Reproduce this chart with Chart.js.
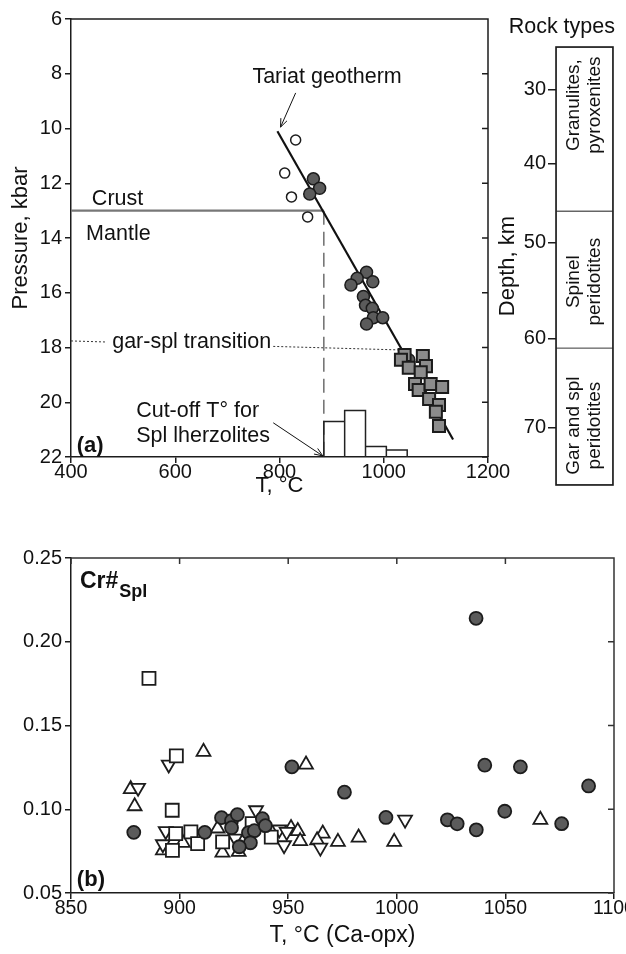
<!DOCTYPE html>
<html lang="en">
<head>
<meta charset="UTF-8">
<title>Tariat xenoliths: P–T and Cr# of spinel</title>
<script src="https://cdn.jsdelivr.net/npm/chart.js"></script>
<style>
  html, body { margin: 0; padding: 0; background: #fff; overflow: hidden; }
  body { width: 626px; height: 954px; position: relative; }
  canvas { position: absolute; }
  #chartPT { left: 0; top: 0; }
  #chartRocks { left: 488px; top: 0; }
  #chartCr { left: 0; top: 500px; }
</style>
</head>
<body>
<canvas id="chartPT" width="520" height="500"></canvas>
<canvas id="chartRocks" width="138" height="500"></canvas>
<canvas id="chartCr" width="660" height="454"></canvas>
<script>
const FONT = "'Liberation Sans', Arial, Helvetica, sans-serif";
const INK = '#1c1c1c';

// ---- (a) P-T estimates: T in °C, P in kbar ----
const openCircleT = [831, 810, 823, 854];
const openCircleP = [10.42, 11.63, 12.50, 13.23];
const darkCircleT = [865, 877, 858, 967, 949, 937, 979, 961, 965, 978, 980, 998, 967, 1048];
const darkCircleP = [11.84, 12.18, 12.39, 15.25, 15.47, 15.72, 15.60, 16.14, 16.46, 16.57, 16.91, 16.91, 17.14, 18.45];
const squareT = [1040, 1033, 1048, 1075, 1081, 1071, 1060, 1067, 1090, 1112, 1087, 1106, 1100, 1106];
const squareP = [18.27, 18.45, 18.74, 18.31, 18.68, 18.90, 19.33, 19.55, 19.33, 19.44, 19.88, 20.10, 20.35, 20.87];

// Tariat geotherm end points
const geothermT = [796, 1133];
const geothermP = [10.1, 21.36];

// crust/mantle boundary and spl-lherzolite cut-off temperature
const mohoP = 13;
const cutoffT = 885;

// gar-spl transition, broken around its label
const garSplLeftT = [400, 469];
const garSplLeftP = [17.76, 17.80];
const garSplRightT = [788, 1033];
const garSplRightP = [17.96, 18.09];

// histogram of spl lherzolite temperatures (bin edges °C, bar tops on the P axis)
const histEdges = [885, 925, 965, 1005, 1045];
const histTops = [20.7, 20.3, 21.62, 21.74];

// ---- rock column ----
const rockNames = [['Granulites,', 'pyroxenites'], ['Spinel', 'peridotites'], ['Gar and spl', 'peridotites']];
const rockFromP = [7, 13, 18];
const rockToP = [13, 18, 23];
const depthKm = [30, 40, 50, 60, 70];
const depthP = [8.56, 11.26, 14.15, 17.65, 20.9];

// ---- (b) Cr# of spinel vs T (Ca-opx) ----
const crCircleT = [878.9, 911.6, 919.3, 923.9, 926.6, 923.9, 931.7, 934.4, 932.6, 927.5, 938.1, 939.5,
  951.7, 975.9, 995.0, 1023.3, 1027.8, 1036.6, 1036.5, 1040.5, 1056.9, 1049.7, 1075.9, 1088.3];
const crCircleV = [0.0862, 0.0862, 0.0950, 0.0932, 0.0968, 0.0890, 0.0860, 0.0872, 0.0800, 0.0776, 0.0944, 0.0902,
  0.1253, 0.1102, 0.0951, 0.0937, 0.0913, 0.0877, 0.2140, 0.1263, 0.1253, 0.0988, 0.0914, 0.1139];
const crSquareT = [885.9, 898.5, 896.6, 898.2, 905.2, 896.7, 908.3, 919.8, 933.4, 942.2];
const crSquareV = [0.1781, 0.1319, 0.0994, 0.0855, 0.0865, 0.0755, 0.0795, 0.0805, 0.0914, 0.0834];
const crUpT = [911.0, 877.5, 879.3, 892.3, 901.5, 917.5, 919.7, 927.2, 951.3, 954.4, 955.5, 958.2,
  965.9, 963.3, 972.9, 982.4, 998.8, 1066.1];
const crUpV = [0.1343, 0.1120, 0.1018, 0.0755, 0.0799, 0.0885, 0.0741, 0.0745, 0.0888, 0.0870, 0.0810, 0.1267,
  0.0855, 0.0815, 0.0805, 0.0831, 0.0805, 0.0937];
const crDownT = [895.0, 880.9, 893.6, 892.3, 935.2, 925.7, 945.9, 949.3, 948.1, 964.8, 1003.8];
const crDownV = [0.1267, 0.1128, 0.0870, 0.0791, 0.0994, 0.0825, 0.0879, 0.0865, 0.0785, 0.0771, 0.0938];

const pts = (xs, ys) => xs.map((x, i) => ({ x, y: ys[i] }));

function lineSet(data, color, width, dash, order) {
  return { data, showLine: true, borderColor: color, borderWidth: width, borderDash: dash || [],
    pointRadius: 0, fill: false, tension: 0, order };
}

function arrow(ctx, x1, y1, x2, y2, head) {
  const a = Math.atan2(y2 - y1, x2 - x1);
  ctx.beginPath();
  ctx.moveTo(x1, y1); ctx.lineTo(x2, y2);
  ctx.moveTo(x2 - head * Math.cos(a - 0.38), y2 - head * Math.sin(a - 0.38));
  ctx.lineTo(x2, y2);
  ctx.lineTo(x2 - head * Math.cos(a + 0.38), y2 - head * Math.sin(a + 0.38));
  ctx.stroke();
}

// top and right sides of the box, with inward ticks
const boxFrame = {
  id: 'boxFrame',
  afterDatasetsDraw(chart, args, opts) {
    const { ctx, chartArea: a, scales: { x, y } } = chart;
    ctx.save();
    ctx.strokeStyle = opts.color;
    ctx.lineWidth = opts.width;
    ctx.beginPath();
    ctx.moveTo(a.left, a.top); ctx.lineTo(a.right, a.top); ctx.lineTo(a.right, a.bottom);
    if (opts.rightTicks) y.ticks.forEach(t => {
      const py = y.getPixelForValue(t.value);
      ctx.moveTo(a.right, py); ctx.lineTo(a.right - opts.len, py);
    });
    if (opts.topTicks) x.ticks.forEach(t => {
      const px = x.getPixelForValue(t.value);
      ctx.moveTo(px, a.top); ctx.lineTo(px, a.top + opts.len);
    });
    ctx.stroke();
    ctx.restore();
  }
};

const tickFont = { family: FONT, size: 20 };
const plain = v => String(v);

function axisCommon(extra) {
  return Object.assign({
    type: 'linear',
    border: { display: true, color: INK, width: 1.5 },
    grid: { drawOnChartArea: false, drawTicks: true, tickLength: 6, color: INK, lineWidth: 1.5 }
  }, extra);
}

// ---------- (a) pressure vs temperature ----------
const histLine = [{ x: histEdges[0], y: 22 }];
histTops.forEach((top, i) => {
  histLine.push({ x: histEdges[i], y: top }, { x: histEdges[i + 1], y: top }, { x: histEdges[i + 1], y: 22 });
});

const ptNotes = {
  id: 'ptNotes',
  afterDatasetsDraw(chart) {
    const { ctx, scales: { x, y } } = chart;
    const X = v => x.getPixelForValue(v), Y = v => y.getPixelForValue(v);
    ctx.save();
    ctx.fillStyle = '#111';
    ctx.textBaseline = 'alphabetic';
    ctx.font = `21.5px ${FONT}`;
    ctx.fillText('Tariat geotherm', X(748), Y(8.34));
    ctx.fillText('Crust', X(440), Y(12.79));
    ctx.fillText('Mantle', X(429), Y(14.07));
    ctx.fillText('gar-spl transition', X(479), Y(18.0));
    ctx.fillText('Cut-off T\u00B0 for', X(525), Y(20.54));
    ctx.fillText('Spl lherzolites', X(525), Y(21.45));
    ctx.font = `bold 22px ${FONT}`;
    ctx.fillText('(a)', X(411), Y(21.82));
    ctx.strokeStyle = '#111';
    ctx.lineWidth = 1;
    arrow(ctx, X(831), Y(8.70), X(802), Y(9.95), 9);
    arrow(ctx, X(788), Y(20.75), X(883), Y(21.96), 9);
    ctx.restore();
  }
};

new Chart(document.getElementById('chartPT'), {
  type: 'scatter',
  data: {
    datasets: [
      { data: pts(squareT, squareP), pointStyle: 'rect', pointRadius: 8.5, backgroundColor: '#8c8c8c',
        borderColor: INK, borderWidth: 2, order: 1 },
      { data: pts(darkCircleT, darkCircleP), pointRadius: 6, backgroundColor: '#5b5b5b',
        borderColor: INK, borderWidth: 1.5, order: 2 },
      { data: pts(openCircleT, openCircleP), pointRadius: 5, backgroundColor: '#fff',
        borderColor: INK, borderWidth: 1.5, order: 3 },
      lineSet(pts(geothermT, geothermP), '#111', 2.2, null, 8),
      lineSet(histLine, '#222', 1.5, null, 9),
      lineSet([{ x: 400, y: mohoP }, { x: cutoffT, y: mohoP }], '#777', 2.2, null, 10),
      lineSet([{ x: cutoffT, y: mohoP }, { x: cutoffT, y: 22 }], '#777', 1.6, [14, 7], 10),
      lineSet(pts(garSplLeftT, garSplLeftP), '#333', 1, [2, 2], 10),
      lineSet(pts(garSplRightT, garSplRightP), '#333', 1, [2, 2], 10)
    ]
  },
  options: {
    responsive: false, animation: false, devicePixelRatio: 1, events: [],
    layout: { padding: { left: 0, right: 32, top: 19, bottom: 0 } },
    plugins: { legend: { display: false }, tooltip: { enabled: false },
      boxFrame: { color: INK, width: 1.5, len: 6, rightTicks: true, topTicks: false } },
    scales: {
      x: axisCommon({ min: 400, max: 1200,
        ticks: { stepSize: 200, color: '#111', font: tickFont, padding: -3, callback: plain },
        title: { display: true, text: 'T, \u00B0C', color: '#111', font: { family: FONT, size: 22 }, padding: { bottom: 1 } },
        afterFit: s => { s.height = 43; } }),
      y: axisCommon({ min: 6, max: 22, reverse: true,
        ticks: { stepSize: 2, color: '#111', font: tickFont, padding: 3, callback: plain },
        title: { display: true, text: 'Pressure, kbar', color: '#111', font: { family: FONT, size: 22 }, padding: { top: 8 } },
        afterFit: s => { s.width = 71; } })
    }
  },
  plugins: [boxFrame, ptNotes]
});

// ---------- rock column with depth scale ----------
const rockText = {
  id: 'rockText',
  afterDatasetsDraw(chart) {
    const { ctx, chartArea: a, scales: { y } } = chart;
    // names sit a little off the middle of each band
    const shift = [-24, 2, 9];
    ctx.save();
    ctx.strokeStyle = INK;
    ctx.lineWidth = 1.6;
    ctx.strokeRect(a.left, a.top, a.right - a.left, a.bottom - a.top);
    ctx.fillStyle = '#111';
    ctx.font = `19px ${FONT}`;
    ctx.textAlign = 'center';
    ctx.textBaseline = 'middle';
    const cx = (a.left + a.right) / 2;
    rockNames.forEach((lines, i) => {
      const cy = (y.getPixelForValue(rockFromP[i]) + y.getPixelForValue(rockToP[i])) / 2 + shift[i];
      ctx.save();
      ctx.translate(cx, cy);
      ctx.rotate(-Math.PI / 2);
      lines.forEach((t, k) => ctx.fillText(t, 0, (k - (lines.length - 1) / 2) * 21));
      ctx.restore();
    });
    ctx.font = `21.5px ${FONT}`;
    ctx.textAlign = 'right';
    ctx.fillText('Rock types', a.right + 2, 27);
    ctx.restore();
  }
};

new Chart(document.getElementById('chartRocks'), {
  type: 'bar',
  data: {
    labels: ['rocks'],
    datasets: rockNames.map((n, i) => ({
      data: [[rockFromP[i], rockToP[i]]], backgroundColor: '#fff', borderColor: '#666', borderWidth: 1,
      borderSkipped: false, grouped: false, barPercentage: 1, categoryPercentage: 1
    }))
  },
  options: {
    responsive: false, animation: false, devicePixelRatio: 1, events: [],
    layout: { padding: { left: 0, right: 13, top: 47, bottom: 15 } },
    plugins: { legend: { display: false }, tooltip: { enabled: false } },
    scales: {
      x: { display: false },
      y: {
        min: 7, max: 23, reverse: true,
        border: { display: false },
        grid: { drawOnChartArea: false, drawTicks: true, tickLength: 8, color: INK, lineWidth: 1.5 },
        afterBuildTicks: s => { s.ticks = depthP.map(v => ({ value: v })); },
        ticks: { color: '#111', font: tickFont, padding: 2, callback: (v, i) => depthKm[i] },
        title: { display: true, text: 'Depth, km', color: '#111', font: { family: FONT, size: 22 }, padding: { top: 7 } },
        afterFit: s => { s.width = 68; }
      }
    }
  },
  plugins: [rockText]
});

// ---------- (b) Cr# of spinel vs T ----------
const crNotes = {
  id: 'crNotes',
  afterDatasetsDraw(chart) {
    const { ctx, scales: { x, y } } = chart;
    ctx.save();
    ctx.fillStyle = '#111';
    ctx.textBaseline = 'alphabetic';
    ctx.font = `bold 23px ${FONT}`;
    const x0 = x.getPixelForValue(854.1);
    ctx.fillText('Cr#', x0, y.getPixelForValue(0.2321));
    const w = ctx.measureText('Cr#').width;
    ctx.font = `bold 18px ${FONT}`;
    ctx.fillText('Spl', x0 + w + 1, y.getPixelForValue(0.2267));
    ctx.font = `bold 22px ${FONT}`;
    ctx.fillText('(b)', x.getPixelForValue(852.7), y.getPixelForValue(0.054));
    ctx.restore();
  }
};

const openMark = { backgroundColor: '#fff', borderColor: INK, borderWidth: 1.8 };

new Chart(document.getElementById('chartCr'), {
  type: 'scatter',
  data: {
    datasets: [
      { data: pts(crCircleT, crCircleV), pointRadius: 6.5, backgroundColor: '#5b5b5b',
        borderColor: INK, borderWidth: 1.8, order: 1 },
      Object.assign({ data: pts(crSquareT, crSquareV), pointStyle: 'rect', pointRadius: 9.2, order: 2 }, openMark),
      Object.assign({ data: pts(crDownT, crDownV), pointStyle: 'triangle', pointRotation: 180, pointRadius: 8, order: 3 }, openMark),
      Object.assign({ data: pts(crUpT, crUpV), pointStyle: 'triangle', pointRadius: 8, order: 4 }, openMark)
    ]
  },
  options: {
    responsive: false, animation: false, devicePixelRatio: 1, events: [],
    layout: { padding: { left: 0, right: 46, top: 58, bottom: 0 } },
    plugins: { legend: { display: false }, tooltip: { enabled: false },
      boxFrame: { color: '#333', width: 1.5, len: 6, rightTicks: true, topTicks: true } },
    scales: {
      x: axisCommon({ min: 850, max: 1100,
        ticks: { stepSize: 50, color: '#111', font: { family: FONT, size: 19.5 }, padding: -2, callback: plain },
        title: { display: true, text: 'T, \u00B0C (Ca-opx)', color: '#111', font: { family: FONT, size: 23 }, padding: { bottom: 5 } },
        afterFit: s => { s.height = 61; } }),
      y: axisCommon({ min: 0.05, max: 0.25,
        ticks: { stepSize: 0.05, color: '#111', font: tickFont, padding: 3, callback: v => v.toFixed(2) },
        afterFit: s => { s.width = 71; } })
    }
  },
  plugins: [boxFrame, crNotes]
});
</script>
</body>
</html>
